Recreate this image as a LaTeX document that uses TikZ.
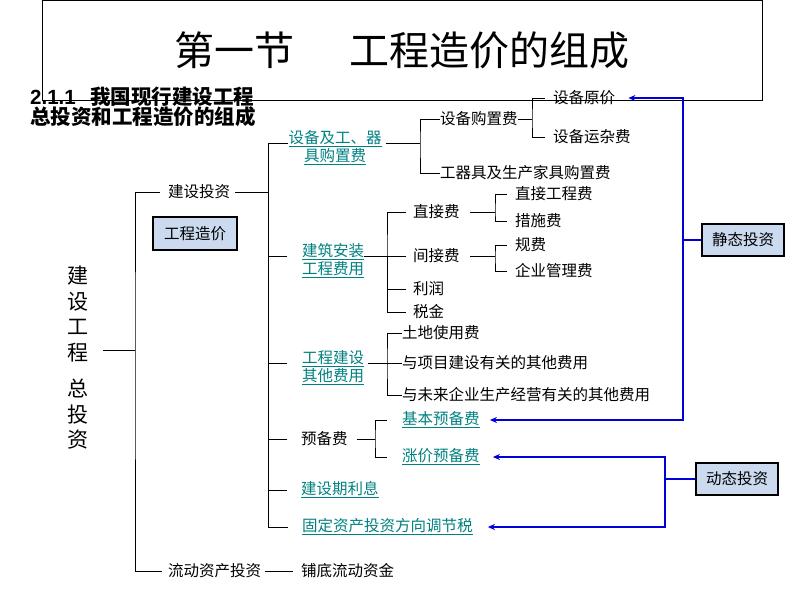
\documentclass[tikz,border=0pt]{standalone}
\usepackage{fontspec}
\setmainfont{Noto Sans CJK SC}
\newfontfamily\latinbf{Liberation Sans}
\usetikzlibrary{arrows.meta}

\definecolor{linkteal}{RGB}{0,128,128}
\definecolor{boxblue}{RGB}{204,218,240}
\definecolor{flowblue}{RGB}{0,0,215}
\newcommand{\itemfont}{\fontsize{15.5}{18}\selectfont}

\begin{document}
\begin{tikzpicture}[x=1pt,y=-1pt,
    every node/.style={inner sep=0pt},
    item/.style={anchor=west,font=\itemfont},
    link/.style={item,text=linkteal},
    linkpair/.style={font=\itemfont,text=linkteal,align=center},
    invbox/.style={draw,line width=2pt,fill=boxblue,minimum width=82pt,minimum height=32pt,font=\itemfont},
    tie/.style={line width=0.8pt},
    bline/.style={draw=flowblue,line width=1.8pt},
    flow/.style={bline,-{Stealth[length=7pt,width=6pt]}}]
      \useasboundingbox (0,0) rectangle (800,600);

      \node[draw,line width=0.8pt,minimum width=720pt,minimum height=100pt,
            font=\fontsize{40}{44}\selectfont] (title) at (402,50) {第一节\hspace{1.4em}工程造价的组成};
      \node[anchor=west,align=left,font=\bfseries\fontsize{20.5}{20}\selectfont] (heading) at (30,107)
            {{\latinbf 2.1.1}\hspace{0.7em}我国现行建设工程\\总投资和工程造价的组成};

      \node[font=\fontsize{21}{25.5}\selectfont,align=center,minimum width=50pt] (total) at (78,358)
            {建\\设\\工\\程\\[11pt]总\\投\\资};

      \node[item]   (jsinv)   at (168,192) {建设投资};
      \node[invbox,minimum width=84pt,minimum height=33pt] (gczj) at (195,233.5) {工程造价};
      \node[item]   (ldinv)   at (168,571) {流动资产投资};
      \node[item]   (pudi)    at (301,571) {铺底流动资金};

      \node[linkpair] (sbgj)  at (335,148) {\underline{设备及工、器}\\\underline{具购置费}};
      \node[item]   (sbgz)    at (440,119) {设备购置费};
      \node[item]   (gqj)     at (440,173) {工器具及生产家具购置费};
      \node[item]   (sbyj)    at (553,98)  {设备原价};
      \node[item]   (sbyz)    at (553,137) {设备运杂费};

      \node[linkpair] (jzaz)  at (333,261) {\underline{建筑安装}\\\underline{工程费用}};
      \node[item]   (zjf)     at (413,212) {直接费};
      \node[item]   (jjf)     at (413,256) {间接费};
      \node[item]   (lirun)   at (413,289) {利润};
      \node[item]   (shuijin) at (413,312) {税金};
      \node[item]   (zjgc)    at (515,194) {直接工程费};
      \node[item]   (csf)     at (515,221) {措施费};
      \node[item]   (guifei)  at (515,245) {规费};
      \node[item]   (qygl)    at (515,271) {企业管理费};

      \node[linkpair] (gcjs)  at (333,368) {\underline{工程建设}\\\underline{其他费用}};
      \node[item]   (tdsy)    at (402,333) {土地使用费};
      \node[item]   (xmjs)    at (402,363) {与项目建设有关的其他费用};
      \node[item]   (wlqy)    at (402,395) {与未来企业生产经营有关的其他费用};

      \node[item]   (ybf)     at (301,439) {预备费};
      \node[link]   (jbyb)    at (402,420) {\underline{基本预备费}};
      \node[link]   (zjyb)    at (402,457) {\underline{涨价预备费}};
      \node[link]   (jsql)    at (301,490) {\underline{建设期利息}};
      \node[link]   (gdzc)    at (302,527) {\underline{固定资产投资方向调节税}};

      \node[invbox] (jtinv)   at (743,240) {静态投资};
      \node[invbox] (dtinv)   at (737,479) {动态投资};

      \coordinate (tr1) at (135,350);
      \coordinate (tr2) at (268,350);
      \coordinate (br1) at (420,143);
      \coordinate (br2) at (532,119);
      \coordinate (br3) at (387,256);
      \coordinate (br4) at (495,212);
      \coordinate (br5) at (495,256);
      \coordinate (br6) at (387,363);
      \coordinate (br7) at (375,439);
      \coordinate (sv)  at (683,240);
      \coordinate (dv)  at (665,479);

      \draw[tie] (total.east |- tr1) -- (tr1);
      \draw[tie] ([xshift=-8pt]jsinv.west) -| (tr1) |- ([xshift=-6pt]ldinv.west);
      \draw[tie] ([xshift=4pt]ldinv.east) -- ([xshift=-8pt]pudi.west);

      \draw[tie] ([yshift=5pt]sbgj.west) -| (tr2) |- ([xshift=-14pt]gdzc.west);
      \draw[tie] ([xshift=5pt]jsinv.east) -| (tr2);
      \draw[tie] ([xshift=-15pt,yshift=5pt]jzaz.west) -| (tr2);
      \draw[tie] ([xshift=-15pt,yshift=5pt]gcjs.west) -| (tr2);
      \draw[tie] ([xshift=-14pt]ybf.west) -| (tr2);
      \draw[tie] ([xshift=-14pt]jsql.west) -| (tr2);

      \draw[tie] ([xshift=4pt,yshift=5pt]sbgj.east) -- (br1);
      \draw[tie] (sbgz.west) -| (br1) |- (gqj.west);
      \draw[tie] (sbgz.east) -- (br2);
      \draw[tie] ([xshift=-8pt]sbyj.west) -| (br2) |- ([xshift=-8pt]sbyz.west);

      \draw[tie] ([yshift=5pt]jzaz.east) -- (br3);
      \draw[tie] ([xshift=-7pt]zjf.west) -| (br3) |- ([xshift=-7pt]shuijin.west);
      \draw[tie] ([xshift=-7pt]jjf.west) -- (br3);
      \draw[tie] ([xshift=-7pt]lirun.west) -| (br3);
      \draw[tie] ([xshift=10pt]zjf.east) -- (br4);
      \draw[tie] ([xshift=-8pt]zjgc.west) -| (br4) |- ([xshift=-8pt]csf.west);
      \draw[tie] ([xshift=10pt]jjf.east) -- (br5);
      \draw[tie] ([xshift=-8pt]guifei.west) -| (br5) |- ([xshift=-8pt]qygl.west);

      \draw[tie] ([xshift=4pt,yshift=5pt]gcjs.east) -- (br6);
      \draw[tie] (tdsy.west) -| (br6) |- (wlqy.west);
      \draw[tie] (xmjs.west) -- (br6);
      \draw[tie] ([xshift=9pt]ybf.east) -- (br7);
      \draw[tie] ([xshift=-15pt]jbyb.west) -| (br7) |- ([xshift=-15pt]zjyb.west);

      \draw[bline] (jtinv.west) -- (sv);
      \draw[flow] (sv) |- ([xshift=13pt]sbyj.east);
      \draw[flow] (sv) |- ([xshift=10pt]jbyb.east);
      \draw[bline] (dtinv.west) -- (dv);
      \draw[flow] (dv) |- ([xshift=13pt]zjyb.east);
      \draw[flow] (dv) |- ([xshift=15pt]gdzc.east);
    \end{tikzpicture}
\end{document}
